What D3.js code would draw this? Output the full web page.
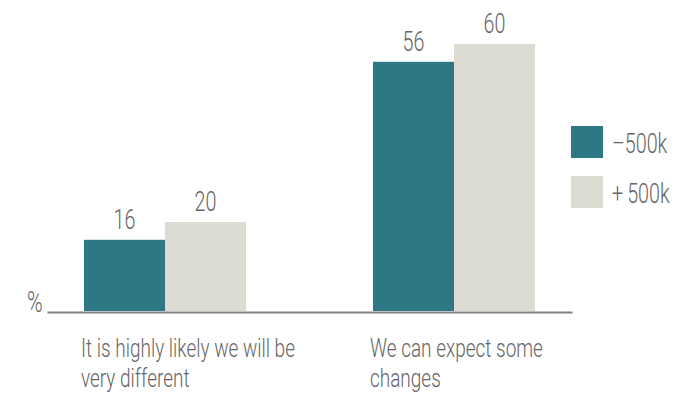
<!DOCTYPE html>
<html>
<head>
<meta charset="utf-8">
<script src="https://cdn.jsdelivr.net/npm/d3@7"></script>
<style>
  body { margin: 0; background: #fff; }
  svg text { font-family: Roboto, "Noto Sans", sans-serif; font-weight: 300; fill: #666; }
</style>
</head>
<body>
<div id="chart"></div>
<script>
const categories = ['It is highly likely we will be very different', 'We can expect some changes'];
const categoryLines = [['It is highly likely we will be', 'very different'], ['We can expect some', 'changes']];
const series = ['\u2013500k', '+\u2009500k'];
const valuesUnder = [16, 56];
const valuesOver = [20, 60];
const colors = ['#2e7886', '#dcdcd2'];

const width = 680, height = 393;
const baseline = 311;
const squeeze = 0.73; // the original face is a condensed one

const svg = d3.select('#chart')
  .append('svg')
    .attr('width', width)
    .attr('height', height);

const x0 = d3.scaleBand()
  .domain(categories)
  .range([47, 572])
  .paddingInner(0.4394)
  .paddingOuter(0.128);

const x1 = d3.scaleBand()
  .domain(series)
  .range([0, x0.bandwidth()]);

const y = d3.scaleLinear()
  .domain([0, 60])
  .range([baseline, 44]);

const rows = categories.map((c, i) => ({
  category: c,
  lines: categoryLines[i],
  values: [valuesUnder[i], valuesOver[i]].map((v, j) => ({ key: series[j], value: v, color: colors[j] }))
}));

// place a text at x, y and squeeze it horizontally
const place = (x, y) => `translate(${x}, ${y}) scale(${squeeze}, 1)`;

const group = svg.selectAll('.group')
  .data(rows)
  .enter()
  .append('g')
    .attr('class', 'group')
    .attr('transform', d => `translate(${x0(d.category)}, 0)`);

group.selectAll('rect')
  .data(d => d.values)
  .enter()
  .append('rect')
    .attr('x', d => x1(d.key))
    .attr('y', d => y(d.value))
    .attr('width', x1.bandwidth())
    .attr('height', d => baseline - y(d.value))
    .attr('fill', d => d.color);

group.selectAll('.value')
  .data(d => d.values)
  .enter()
  .append('text')
    .attr('class', 'value')
    .attr('transform', d => place(x1(d.key) + x1.bandwidth() / 2, y(d.value) - 11))
    .attr('text-anchor', 'middle')
    .attr('font-size', 27)
    .text(d => d.value);

// axis line
const xAxis = d3.axisBottom(x0).tickSize(0).tickFormat('');
svg.append('g')
    .attr('transform', `translate(0, ${baseline + 1})`)
    .call(xAxis)
    .call(g => g.select('.domain').attr('stroke', '#808080').attr('stroke-width', 2));

svg.append('text')
    .attr('transform', place(27, 312))
    .attr('font-size', 29)
    .text('%');

// category labels, two lines each
group.append('text')
    .attr('class', 'category')
    .attr('transform', place(-3, 357))
    .attr('font-size', 26)
  .selectAll('tspan')
  .data(d => d.lines)
  .enter()
  .append('tspan')
    .attr('x', 0)
    .attr('dy', (d, i) => i ? 30 : 0)
    .text(d => d);

// legend
const legend = svg.selectAll('.legend')
  .data(series)
  .enter()
  .append('g')
    .attr('class', 'legend')
    .attr('transform', (d, i) => `translate(571, ${126 + i * 50})`);

legend.append('rect')
    .attr('width', 32)
    .attr('height', 32)
    .attr('fill', (d, i) => colors[i]);

legend.append('text')
    .attr('transform', place(41, 27))
    .attr('font-size', 27)
    .text(d => d);
</script>
</body>
</html>
